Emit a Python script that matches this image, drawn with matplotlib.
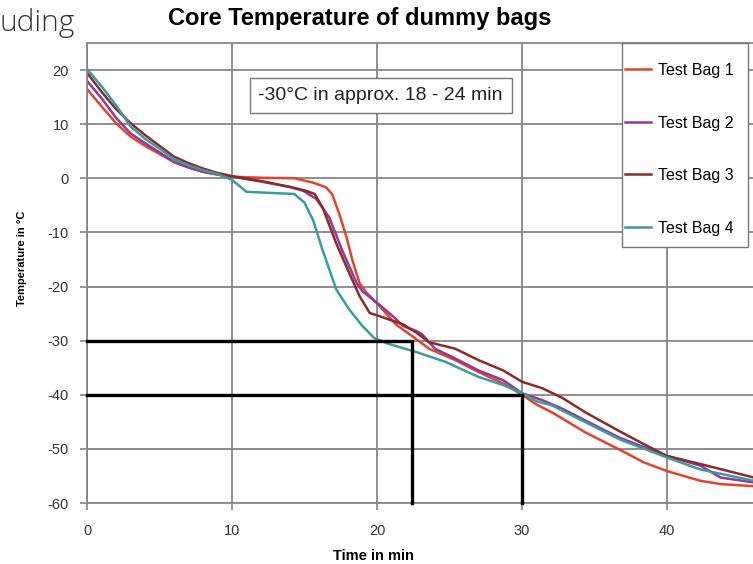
import matplotlib.pyplot as plt
from matplotlib.patches import Rectangle

# readings of the four dummy bags (time in min, temperature in degC)
t_bag1 = [0, 1, 2, 3, 4, 5, 6, 7, 8, 9, 10, 12, 14.3, 15.6, 16.5, 16.9, 17.4, 17.9, 18.3, 18.8, 19.3,
          20.2, 21.3, 22.7, 23.6, 25.4, 27.0, 28.7, 30, 31, 32.1, 34.4, 36.7, 38.4, 40, 42.3, 43.7, 46]
temp_bag1 = [16.5, 13.3, 10.2, 7.7, 6.0, 4.5, 3.0, 2.0, 1.2, 0.7, 0.3, 0.1, 0, -0.8, -1.7, -2.9, -6.6, -10.9,
             -15.1, -19.4, -21.2, -23.7, -27.0, -29.7, -31.5, -33.6, -35.8, -37.9, -40, -41.8, -43.3, -47.0,
             -50.1, -52.5, -54.1, -55.9, -56.5, -56.9]

t_bag2 = [0, 1, 2, 3, 4, 5, 6, 7, 8, 9, 10, 12, 14, 14.9, 15.8, 16.7, 17.6, 18.6, 19.0, 20.0, 21.1, 21.8,
          22.7, 23.1, 24.0, 25.4, 27.0, 28.7, 30, 31.4, 32.8, 34.4, 36.7, 39.1, 40, 42.3, 43.7, 46]
temp_bag2 = [18.0, 14.8, 11.2, 8.3, 6.5, 4.8, 3.0, 2.0, 1.2, 0.7, 0.3, -0.6, -1.6, -2.3, -3.8, -7.2, -13.3,
             -19.4, -20.9, -23.0, -25.5, -27.3, -28.2, -28.8, -31.5, -33.3, -35.5, -37.3, -39.7, -41.0, -42.6,
             -44.8, -47.9, -50.4, -51.3, -53.1, -55.3, -56.2]

t_bag3 = [0, 1, 2, 3, 4, 5, 6, 7, 8, 9, 10, 12, 14, 15.1, 15.7, 16.25, 17.2, 18.1, 18.8, 19.5, 20.2, 21.8,
          22.7, 23.6, 25.4, 27.0, 28.7, 30, 31.4, 32.8, 34.4, 36.7, 38.6, 40, 42.3, 46]
temp_bag3 = [19.5, 16.0, 12.8, 10.2, 8.0, 6.0, 4.0, 2.8, 1.8, 1.0, 0.4, -0.5, -1.6, -2.3, -2.9, -5.4, -12.1,
             -17.6, -21.8, -24.9, -25.5, -27.0, -28.5, -30.3, -31.5, -33.6, -35.5, -37.6, -38.8, -40.6, -43.3,
             -46.7, -49.4, -51.3, -52.8, -55.3]

t_bag4 = [0, 1, 2, 3, 4, 5, 6, 7, 8, 9, 10, 11.0, 14.3, 15.0, 15.6, 16.25, 17.2, 18.1, 19.0, 19.8, 20.8,
          22.7, 24.7, 27.0, 28.7, 30, 31, 32.1, 34.4, 36.7, 40, 42.3, 46]
temp_bag4 = [20.2, 17.0, 13.5, 9.6, 7.3, 5.5, 3.5, 2.4, 1.5, 0.8, -0.3, -2.5, -2.9, -4.5, -7.8, -13.3, -20.6,
             -24.3, -27.3, -29.5, -30.6, -32.1, -33.9, -36.7, -38.2, -39.7, -41.2, -42.0, -45.1, -48.2, -51.6,
             -53.8, -55.9]

labels = ['Test Bag 1', 'Test Bag 2', 'Test Bag 3', 'Test Bag 4']
colors = ['#e5422b', '#8e3b9b', '#8c2a2a', '#3a9c9c']

# -30 and -40 degC markers
ref_temps = [-30, -40]
ref_times = [22.4, 30.0]

plt.rcParams['font.family'] = ['Liberation Sans', 'DejaVu Sans']
plt.rcParams['axes.unicode_minus'] = False

fig = plt.figure(figsize=(7.53, 5.64), dpi=100)
ax = fig.add_axes([87 / 753, 61 / 564, 666 / 753, 460 / 564])

ax.set_xlim(0, 45.93)
ax.set_ylim(-60, 25)
ax.set_xticks([0, 10, 20, 30, 40])
ax.set_yticks(range(-60, 21, 10))
ax.grid(True, color='#8a8585', lw=1.3)
ax.set_axisbelow(True)
for s in ['left', 'bottom', 'top']:
    ax.spines[s].set_color('#8a8585')
    ax.spines[s].set_linewidth(1.3)
ax.spines['right'].set_visible(False)
ax.tick_params(direction='out', length=5, color='#8a8585', width=1.2,
               labelsize=10.5, labelcolor='#333333')
ax.tick_params(axis='x', pad=10)
ax.tick_params(axis='y', pad=8)

for t, temp, lab, c in zip([t_bag1, t_bag2, t_bag3, t_bag4],
                           [temp_bag1, temp_bag2, temp_bag3, temp_bag4], labels, colors):
    ax.plot(t, temp, color=c, lw=1.8, label=lab)

for temp, t in zip(ref_temps, ref_times):
    ax.plot([0, t, t], [temp, temp, -60], color='black', lw=2.4, solid_joinstyle='miter',
            clip_on=False, zorder=5)

ax.text(20.25, 15.3, '-30°C in approx. 18 - 24 min', fontsize=14, ha='center', va='center',
        color='#222222',
        bbox=dict(boxstyle='square,pad=0.45', fc='white', ec='#777777', lw=1.0))

ax.set_xlabel('Time in min', fontsize=10.5, fontweight='bold')
ax.xaxis.set_label_coords(0.43, -0.1)
ax.set_ylabel('Temperature in °C', fontsize=8, fontweight='bold')
ax.yaxis.set_label_coords(-0.09, 0.533)

# legend box drawn by hand so its padding can differ between sides
ax.add_patch(Rectangle((622 / 753, 1 - 247 / 564), 126 / 753, 204 / 564,
                       transform=fig.transFigure, fc='white', ec='#777777', lw=1.0,
                       zorder=9, clip_on=False))
leg = ax.legend(loc='upper left', bbox_to_anchor=(625 / 753, 1 - 63 / 564),
                bbox_transform=fig.transFigure, fontsize=11.5, frameon=False,
                labelspacing=2.35, handlelength=1.6, borderpad=0, handletextpad=0.45,
                borderaxespad=0)
leg.set_zorder(10)

fig.text(360 / 753, 1 - 19 / 564, 'Core Temperature of dummy bags', fontsize=17,
         fontweight='bold', ha='center', va='center')
fig.text(0, 1 - 23 / 564, 'uding', fontsize=21.5, color='#333333', ha='left', va='center',
         family=['Open Sans', 'DejaVu Sans'], fontweight='light')

fig.savefig('out.png', dpi=100)
